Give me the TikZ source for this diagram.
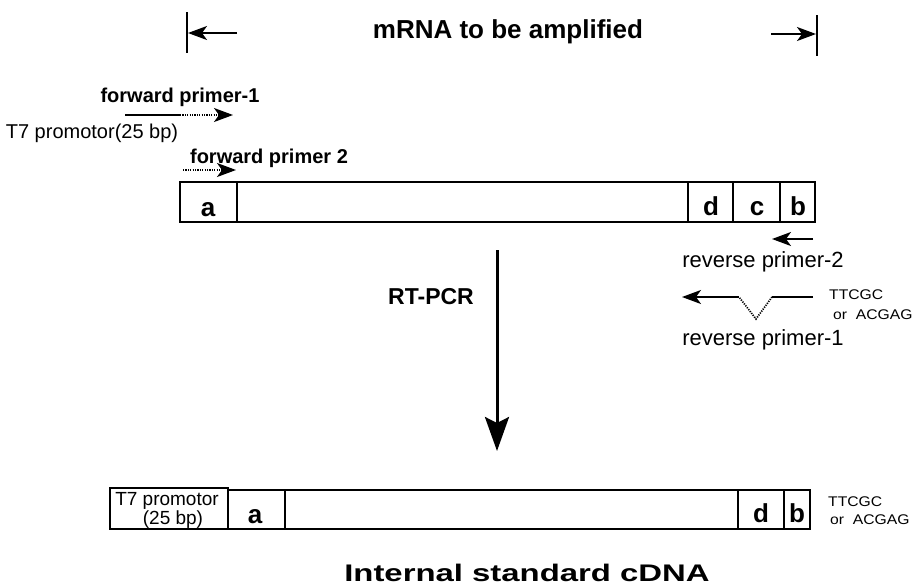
\documentclass[tikz,border=0pt]{standalone}
\usepackage{fontspec}
\setmainfont{Liberation Sans}
\usetikzlibrary{arrows.meta}
\tikzset{
  x=1pt, y=-1pt,
  lbl/.style={inner sep=0pt, font=\fontsize{#1}{#1}\selectfont},
  blbl/.style={inner sep=0pt, font=\fontsize{#1}{#1}\selectfont\bfseries},
  seg/.style={inner sep=0pt, anchor=base, font=\fontsize{26}{26}\selectfont\bfseries},
  tag/.style={inner sep=0pt, anchor=west, font=\fontsize{14}{14}\selectfont},
  tip/.style={-{Stealth[length=19pt,width=14pt,inset=5pt]}},
  solidline/.style={line width=1.7pt},
  dotline/.style={line width=1.7pt, dash pattern=on 1.2pt off 1.2pt},
  boxedge/.style={line width=2.4pt},
  divider/.style={line width=1.3pt},
}
\begin{document}
\begin{tikzpicture}
\useasboundingbox (0,0) rectangle (919,587);

% ---- span of the amplified mRNA ----
\node[blbl=26] (title) at (508,32) {mRNA to be amplified};
\coordinate (lbarT) at (187,12);  \coordinate (lbarB) at (187,53);
\coordinate (rbarT) at (817,15);  \coordinate (rbarB) at (817,56);
\coordinate (larS) at (237,33);   \coordinate (larE) at (188,33);
\coordinate (rarS) at (771,34);   \coordinate (rarE) at (816,34);
\draw[line width=1.2pt] (lbarT) -- (lbarB);
\draw[line width=1.2pt] (rbarT) -- (rbarB);
\draw[solidline, tip] (larS) -- (larE);
\draw[solidline, tip] (rarS) -- (rarE);

% ---- forward primers ----
\node[blbl=20] (fp1) at (180,97) {forward primer-1};
\coordinate (fp1a) at (125,115); \coordinate (fp1b) at (180,115); \coordinate (fp1c) at (233,115);
\draw[solidline] (fp1a) -- (fp1b);
\draw[dotline, tip] (fp1b) -- (fp1c);
\node[lbl=20] (t7lbl) at (92,133) {T7 promotor(25 bp)};
\node[blbl=20] (fp2) at (269,158) {forward primer 2};
\coordinate (fp2a) at (183,170); \coordinate (fp2b) at (236,170);
\draw[dotline, tip] (fp2a) -- (fp2b);

% ---- mRNA template ----
\draw[boxedge] (180,182) rectangle (815,222);
\draw[divider] (237,182) -- (237,222);
\draw[divider] (688,182) -- (688,222);
\draw[divider] (733,182) -- (733,222);
\draw[divider] (780,182) -- (780,222);
\node[seg] (ua) at (208,216) {a};
\node[seg] (ud) at (711,215) {d};
\node[seg] (uc) at (757,215) {c};
\node[seg] (ub) at (798,215) {b};

% ---- reverse primers ----
\coordinate (rp2a) at (813,239); \coordinate (rp2b) at (772,239);
\draw[solidline, tip] (rp2a) -- (rp2b);
\node[lbl=22] (rp2) at (763,262) {reverse primer-2};
\coordinate (rp1a) at (813,297); \coordinate (rp1b) at (772,297);
\coordinate (rp1v) at (756,319); \coordinate (rp1c) at (739,297);
\coordinate (rp1d) at (682,297);
\draw[solidline] (rp1a) -- (rp1b);
\draw[dotline] (rp1b) -- (rp1v) -- (rp1c);
\draw[solidline, tip] (rp1c) -- (rp1d);
\node[tag] (tag1) at (829,295) {\scalebox{1.12}[1]{TTCGC}};
\node[tag] (tag2) at (833,315) {\scalebox{1.12}[1]{or\ \ ACGAG}};
\node[lbl=22] (rp1) at (763,340) {reverse primer-1};

% ---- RT-PCR step ----
\node[blbl=23] (rtpcr) at (431,297) {RT-PCR};
\coordinate (stepS) at (497,250); \coordinate (stepE) at (497,451);
\draw[line width=3pt, -{Stealth[length=34pt,width=24pt,inset=6pt]}] (stepS) -- (stepE);

% ---- internal standard cDNA ----
\draw[divider] (110,488) rectangle (228,529);
\draw[boxedge] (228,490) -- (810,490) -- (810,529) -- (228,529);
\draw[divider] (285,490) -- (285,529);
\draw[divider] (738,490) -- (738,529);
\draw[divider] (784,490) -- (784,529);
\node[lbl=19] (t7a) at (167,501) {T7 promotor};
\node[lbl=19] (t7b) at (173,520) {(25 bp)};
\node[seg] (la) at (255,523) {a};
\node[seg] (ld) at (761,522) {d};
\node[seg] (lb) at (797,522) {b};
\node[tag] (tag3) at (828,502) {\scalebox{1.12}[1]{TTCGC}};
\node[tag] (tag4) at (830,520) {\scalebox{1.12}[1]{or\ \ ACGAG}};
\node[blbl=24, anchor=base] (result) at (527,581) {\scalebox{1.37}[1]{Internal standard cDNA}};
\end{tikzpicture}
\end{document}
